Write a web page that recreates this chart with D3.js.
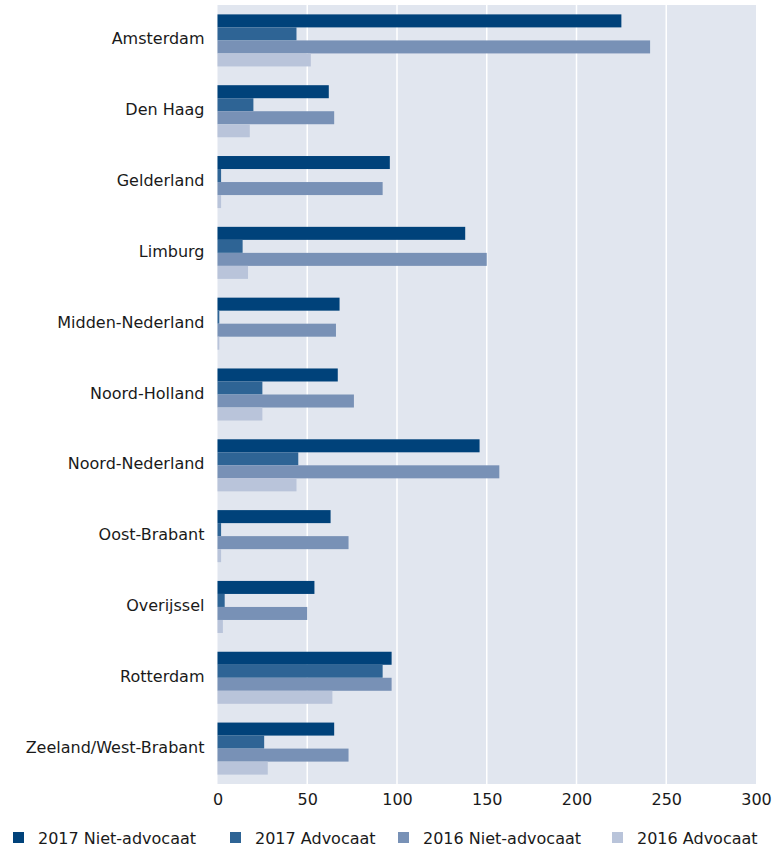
<!DOCTYPE html>
<html>
<head>
<meta charset="utf-8">
<script src="https://cdn.jsdelivr.net/npm/d3@7"></script>
<style>
  html, body { margin: 0; padding: 0; background: #fff; }
  svg { display: block; font-family: "DejaVu Sans", Verdana, sans-serif; }
</style>
</head>
<body>
<svg id="chart" width="774" height="851"></svg>
<script>
const categories = ["Amsterdam", "Den Haag", "Gelderland", "Limburg", "Midden-Nederland",
  "Noord-Holland", "Noord-Nederland", "Oost-Brabant", "Overijssel", "Rotterdam", "Zeeland/West-Brabant"];
const seriesNames = ["2017 Niet-advocaat", "2017 Advocaat", "2016 Niet-advocaat", "2016 Advocaat"];
const niet2017 = [225, 62, 96, 138, 68, 67, 146, 63, 54, 97, 65];
const adv2017  = [44, 20, 2, 14, 1, 25, 45, 2, 4, 92, 26];
const niet2016 = [241, 65, 92, 150, 66, 76, 157, 73, 50, 97, 73];
const adv2016  = [52, 18, 2, 17, 1, 25, 44, 2, 3, 64, 28];
const xTicks = [0, 50, 100, 150, 200, 250, 300];
const colors = ["#00427A", "#2E6495", "#7891B6", "#B9C4DA"];

const series = [niet2017, adv2017, niet2016, adv2016];

const svg = d3.select("#chart");
const mLeft = 217.5, mRight = 756, mTop = 5, mBottom = 784;

const x = d3.scaleLinear().domain([0, 300]).range([mLeft, mRight]);
const y = d3.scaleBand().domain(categories).range([mTop, mBottom])
  .paddingInner(0.265).paddingOuter(0.1325);
const ySub = d3.scaleBand().domain(seriesNames).range([0, y.bandwidth()]);

// background
svg.append("rect").attr("x", mLeft).attr("y", mTop)
  .attr("width", mRight - mLeft).attr("height", mBottom - mTop).attr("fill", "#E1E6EF");

// grid
svg.append("g").selectAll("line").data(xTicks.filter(d => d > 0 && d < 300)).join("line")
  .attr("x1", d => x(d)).attr("x2", d => x(d))
  .attr("y1", mTop).attr("y2", mBottom)
  .attr("stroke", "#fff").attr("stroke-width", 1.5);

// bars
const groups = svg.append("g").selectAll("g").data(categories).join("g")
  .attr("transform", d => `translate(0,${y(d)})`);
groups.selectAll("rect").data((c, i) => series.map((s, j) => ({ name: seriesNames[j], v: s[i], j })))
  .join("rect")
  .attr("x", x(0))
  .attr("y", d => ySub(d.name))
  .attr("width", d => x(d.v) - x(0))
  .attr("height", ySub.bandwidth())
  .attr("fill", d => colors[d.j]);

// y axis labels
const yAxis = d3.axisLeft(y).tickSize(0).tickPadding(13);
const yg = svg.append("g").attr("transform", `translate(${mLeft},0)`).call(yAxis);
yg.select(".domain").remove();
yg.selectAll("text").attr("font-size", 16).attr("fill", "#1a1a1a")
  .attr("font-family", "DejaVu Sans, Verdana, sans-serif").attr("dy", "0.25em");

// x axis
const xAxis = d3.axisBottom(x).tickValues(xTicks).tickSize(0).tickPadding(10);
const xg = svg.append("g").attr("transform", `translate(0,${mBottom})`).call(xAxis);
xg.select(".domain").remove();
xg.selectAll("text").attr("font-size", 16).attr("fill", "#1a1a1a")
  .attr("font-family", "DejaVu Sans, Verdana, sans-serif");

// legend
const legendX = [13, 230, 398, 612];
const lg = svg.append("g").selectAll("g").data(seriesNames).join("g")
  .attr("transform", (d, i) => `translate(${legendX[i]},832)`);
lg.append("rect").attr("width", 11).attr("height", 11).attr("fill", (d, i) => colors[i]);
lg.append("text").attr("x", 25).attr("y", 12).attr("font-size", 16).attr("fill", "#1a1a1a")
  .text(d => d);
</script>
</body>
</html>
